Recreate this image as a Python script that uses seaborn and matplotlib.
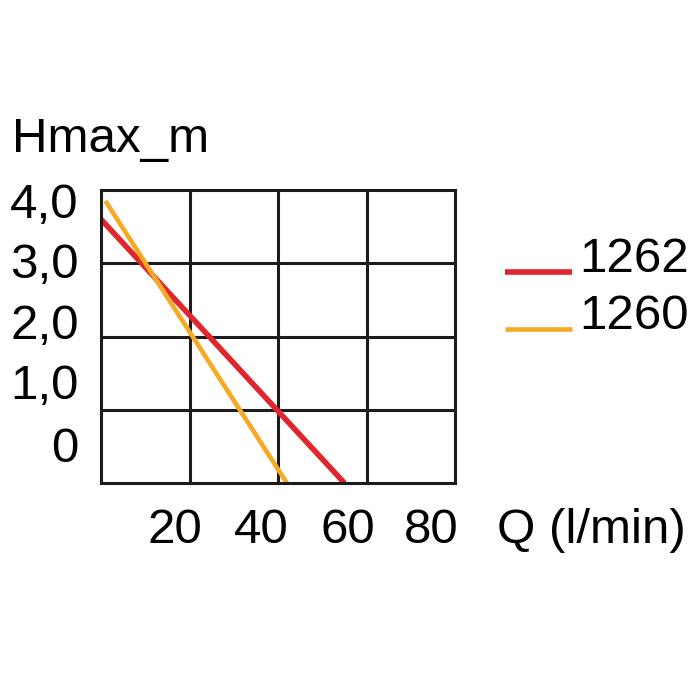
import numpy as np
import pandas as pd
import matplotlib
matplotlib.use("Agg")
import matplotlib.pyplot as plt
import seaborn as sns
from matplotlib.lines import Line2D
from matplotlib.legend_handler import HandlerLine2D

# ---- data ----
series_names = ["1262", "1260"]
q_1262 = [0, 55]
h_1262 = [3.6, 0.0]
q_1260 = [1.0, 42.0]
h_1260 = [3.85, 0.0]

x_tick_labels = ["20", "40", "60", "80"]
x_tick_pos = [16.7, 36.2, 55.7, 74.7]
y_tick_labels = ["4,0", "3,0", "2,0", "1,0", "0"]
y_tick_pos = [3.85, 3.04, 2.21, 1.39, 0.52]
grid_x = [20, 40, 60]
grid_y = [1, 2, 3]

colors = {"1262": "#e0262c", "1260": "#f6a922"}

df = pd.concat([
    pd.DataFrame({"Q": q_1262, "H": h_1262, "series": "1262"}),
    pd.DataFrame({"Q": q_1260, "H": h_1260, "series": "1260"}),
], ignore_index=True)

sns.set_style("white")
plt.rcParams["font.family"] = ["Liberation Sans", "DejaVu Sans"]
plt.rcParams["text.color"] = "black"
plt.rcParams["axes.labelcolor"] = "black"
plt.rcParams["xtick.color"] = "black"
plt.rcParams["ytick.color"] = "black"

fig = plt.figure(figsize=(7, 7), dpi=100)
ax = fig.add_axes([101 / 700, (700 - 483) / 700, 354 / 700, 293 / 700])

sns.lineplot(data=df[df.series == "1262"], x="Q", y="H", color=colors["1262"],
             lw=4.0, ax=ax, label="1262", solid_capstyle="butt")
sns.lineplot(data=df[df.series == "1260"], x="Q", y="H", color=colors["1260"],
             lw=3.3, ax=ax, label="1260", solid_capstyle="butt")

ax.set_xlim(0, 80)
ax.set_ylim(0, 4)

fs = 35.5
ax.set_xticks(x_tick_pos)
ax.set_xticklabels(x_tick_labels, fontsize=fs)
ax.set_yticks(y_tick_pos)
ax.set_yticklabels(y_tick_labels, fontsize=fs)
ax.set_xticks(grid_x, minor=True)
ax.set_yticks(grid_y, minor=True)
ax.tick_params(axis="both", which="both", length=0)
ax.tick_params(axis="x", which="major", pad=18)
ax.tick_params(axis="y", which="major", pad=16)
ax.grid(False, which="major")
ax.grid(True, which="minor", color="#1c1c1c", lw=2.2)
for sp in ax.spines.values():
    sp.set_visible(True)
    sp.set_color("#1c1c1c")
    sp.set_linewidth(2.2)

ax.set_xlabel("Q (l/min)", fontsize=fs, ha="left", va="baseline")
ax.xaxis.set_label_coords((497 - 101) / 354, (483 - 543) / 293)
ax.set_ylabel("Hmax_m", fontsize=fs, rotation=0, ha="left", va="baseline")
ax.yaxis.set_label_coords((12 - 101) / 354, (483 - 152) / 293)


class LowLineHandler(HandlerLine2D):
    def create_artists(self, legend, orig_handle, xdescent, ydescent,
                       width, height, fontsize, trans):
        arts = super().create_artists(legend, orig_handle, xdescent, ydescent,
                                      width, height, fontsize, trans)
        for a in arts:
            yd = a.get_ydata()
            a.set_ydata(np.full_like(np.asarray(yd, dtype=float), 0.0))
        return arts


leg = ax.legend(loc="center left", bbox_to_anchor=((505 - 101) / 354, (483 - 288) / 293),
                frameon=False, fontsize=fs, handlelength=1.35, handletextpad=0.15,
                labelspacing=0.25, borderpad=0, borderaxespad=0,
                handler_map={Line2D: LowLineHandler()})

fig.savefig("out.png", dpi=100, facecolor="white")
